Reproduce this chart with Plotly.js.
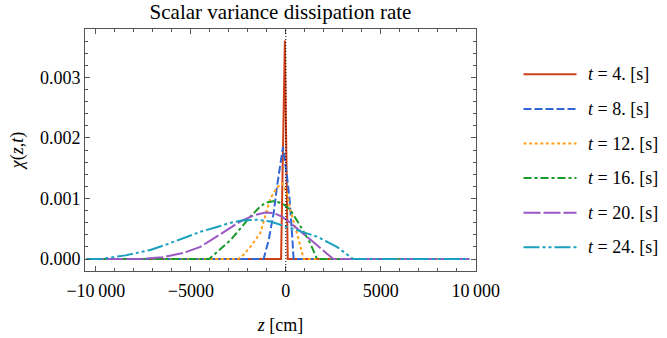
<!DOCTYPE html>
<html>
<head>
<meta charset="utf-8">
<script src="https://cdn.plot.ly/plotly-3.0.1.min.js"></script>
<style>html,body{margin:0;padding:0;background:#fff;}#chart{width:667px;height:338px;}</style>
</head>
<body>
<div id="chart"></div>
<script>
// ---- data ----
const seriesNames = ["t = 4. [s]", "t = 8. [s]", "t = 12. [s]", "t = 16. [s]", "t = 20. [s]", "t = 24. [s]"];
const timeLabels = ["4.", "8.", "12.", "16.", "20.", "24."];

const z4   = [-10500, -250, -50, 100, 9650];
const chi4 = [0, 0, 0.00361, 0, 0];

const z8   = [-10500, -1170, -905, -640, -463, -150, 63, 200, 326, 410, 9650];
const chi8 = [0, 0, 0.00031, 0.00076, 0.0012, 0.00185, 0.00136, 0.00098, 0.00042, 0, 0];

const z12   = [-10500, -2500, -2200, -1870, -1340, -1100, -815, -463, -200, 63, 237, 590, 940, 9650];
const chi12 = [0, 0, 0.00008, 0.0002, 0.00043, 0.0007, 0.001, 0.00118, 0.00125, 0.00109, 0.00081, 0.00042, 0, 0];

const z16   = [-10500, -4040, -3500, -2920, -2400, -1870, -1400, -1080, -550, -100, 237, 660, 1290, 1640, 9650];
const chi16 = [0, 0, 0.00015, 0.00031, 0.0005, 0.0007, 0.00085, 0.00093, 0.00096, 0.0009, 0.00081, 0.0006, 0.00026, 0, 0];

const z20   = [-10500, -7650, -6500, -5400, -4500, -3620, -3000, -2390, -1700, -1080, -660, -200, 237, 800, 1290, 1900, 2500, 9650];
const chi20 = [0, 0, 0.00003, 0.0001, 0.0002, 0.00037, 0.0005, 0.00062, 0.00072, 0.00077, 0.00076, 0.0007, 0.0006, 0.00045, 0.00031, 0.00015, 0, 0];

const z24   = [-10500, -9760, -8440, -7130, -6200, -5400, -4500, -3620, -2900, -2240, -1520, -815, 237, 1640, 2690, 3550, 9650];
const chi24 = [0, 0, 0.00006, 0.00015, 0.00025, 0.00035, 0.00045, 0.00053, 0.0006, 0.00064, 0.00065, 0.00062, 0.00051, 0.00037, 0.0002, 0, 0];

const xTickVals = [-10000, -5000, 0, 5000, 10000];
const xTickText = ["\u221210\u2009000", "\u22125000", "0", "5000", "10\u2009000"];
const yTickVals = [0, 0.001, 0.002, 0.003];
const yTickText = ["0.000", "0.001", "0.002", "0.003"];

// ---- styles ----
const colors = ["#cf4119", "#3066d6", "#ff9f1a", "#1a9c2a", "#9a58c2", "#1aa0bf"];
const dashes = ["solid", "8px,3px", "3px,2.6px", "8px,3px,3px,3px", "17px,3px", "16px,3px,3px,3px,3px,3px"];
const zs = [z4, z8, z12, z16, z20, z24];
const chis = [chi4, chi8, chi12, chi16, chi20, chi24];

const FONT = "Liberation Serif, Times New Roman, serif";

const traces = zs.map((z, i) => ({
  type: "scatter", mode: "lines", x: z, y: chis[i], name: seriesNames[i],
  line: {color: colors[i], width: 2, dash: dashes[i]},
  showlegend: false, hoverinfo: "skip"
}));

// plot area in pixels
const L = 85, R = 476, T = 29, B = 271;
const W = 667, H = 338;
const px2x = p => (p - L) / (R - L);
const py2y = p => (B - p) / (B - T);

const shapes = [{
  type: "line", xref: "x", yref: "paper", x0: 0, x1: 0, y0: 0, y1: 1,
  line: {color: "#000", width: 1, dash: "1px,2px"}
}];
const annotations = [];
seriesNames.forEach((n, i) => {
  const yy = py2y(74.3 + 34.6 * i);
  shapes.push({
    type: "line", xref: "paper", yref: "paper", x0: px2x(523.5), x1: px2x(576.5), y0: yy, y1: yy,
    line: {color: colors[i], width: 2, dash: dashes[i]}
  });
  annotations.push({
    xref: "paper", yref: "paper", x: px2x(586), y: yy, xanchor: "left", yanchor: "middle",
    text: "<i>t</i> = " + timeLabels[i] + " [s]", showarrow: false,
    font: {family: FONT, size: 18, color: "#000"}
  });
});

const axisCommon = {
  showline: true, linecolor: "#555", linewidth: 1, mirror: "allticks",
  ticks: "inside", ticklen: 5, tickcolor: "#555", tickwidth: 1,
  showgrid: false, zeroline: false,
  tickfont: {family: FONT, size: 18, color: "#000"}
};

const layout = {
  width: W, height: H,
  margin: {l: L, r: W - R, t: T, b: H - B, pad: 0},
  paper_bgcolor: "#fff", plot_bgcolor: "#fff",
  font: {family: FONT, color: "#000"},
  title: {text: "Scalar variance dissipation rate", font: {family: FONT, size: 21, color: "#000"},
          xref: "paper", x: 0.5, xanchor: "center", yref: "container", y: 1 - 12 / H, yanchor: "middle"},
  xaxis: Object.assign({}, axisCommon, {
    range: [-10570, 10010], tickmode: "array", tickvals: xTickVals, ticktext: xTickText,
    ticklabelstandoff: 3,
    minor: {dtick: 1000, tick0: 0, ticks: "inside", ticklen: 3, tickcolor: "#555"},
    title: {text: "<i>z</i> [cm]", font: {family: FONT, size: 18, color: "#000"}, standoff: 18}
  }),
  yaxis: Object.assign({}, axisCommon, {
    range: [-0.000198, 0.0038], tickmode: "array", tickvals: yTickVals, ticktext: yTickText,
    minor: {dtick: 0.0002, tick0: 0, ticks: "inside", ticklen: 3, tickcolor: "#555"},
    title: {text: "<i>χ</i>(<i>z</i>,<i>t</i>)", font: {family: FONT, size: 18, color: "#000"}, standoff: 11}
  }),
  shapes: shapes, annotations: annotations, showlegend: false
};

Plotly.newPlot("chart", traces, layout, {staticPlot: true, displayModeBar: false});
</script>
</body>
</html>
